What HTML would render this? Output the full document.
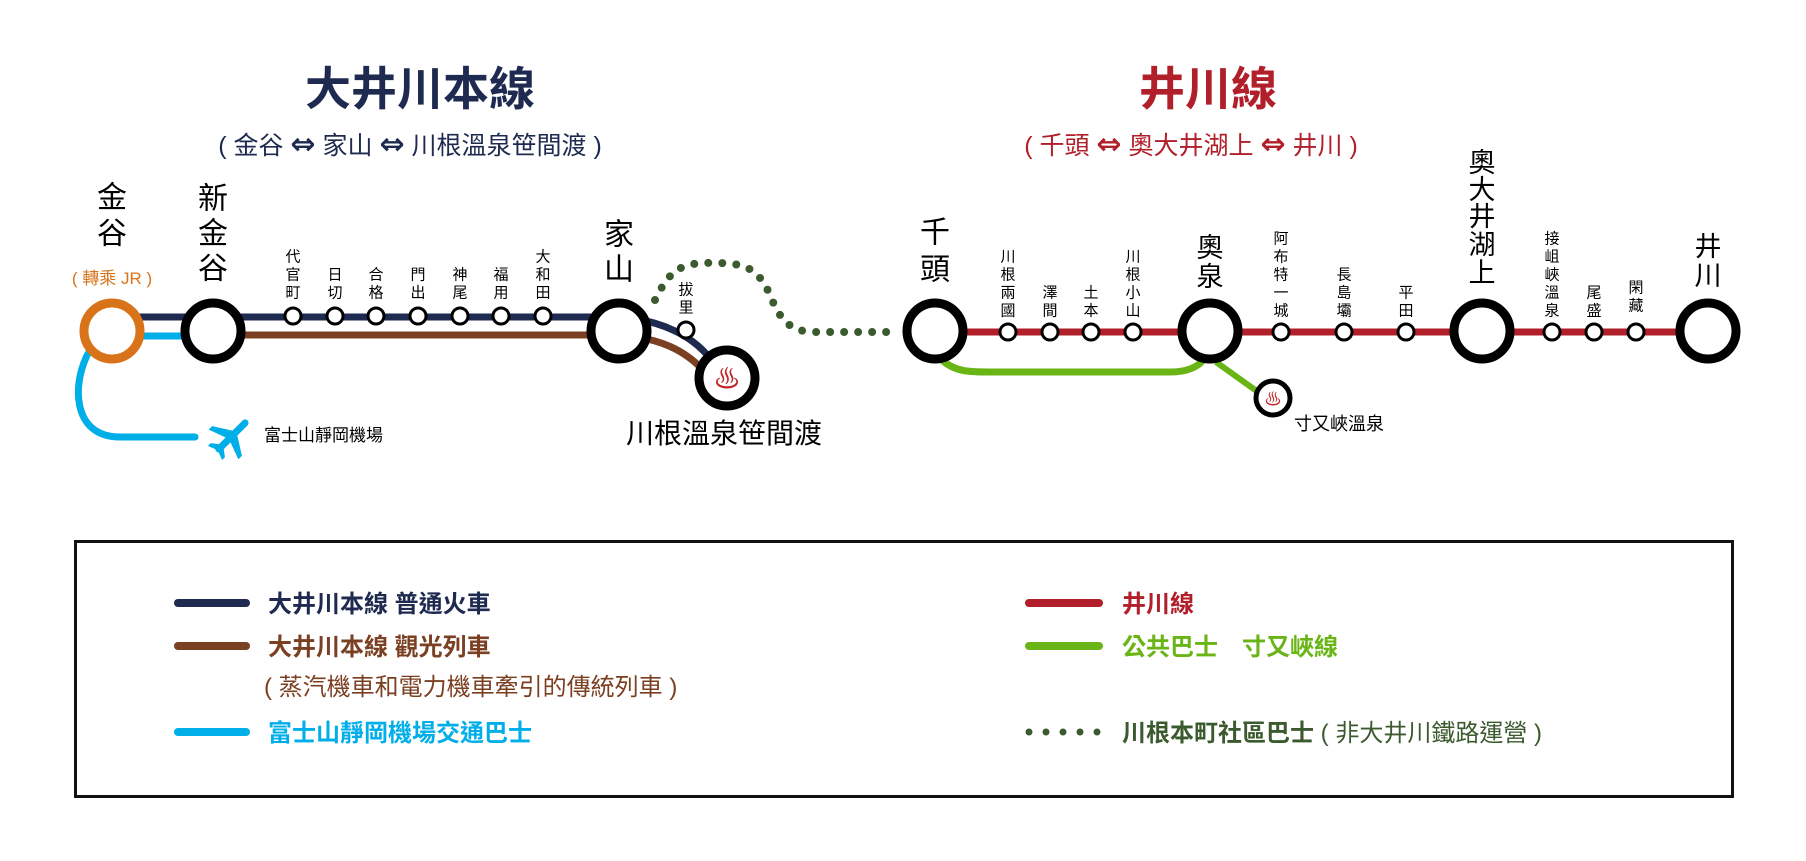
<!DOCTYPE html>
<html><head><meta charset="utf-8"><style>
html,body{margin:0;padding:0;background:#fff;}
svg{display:block;}
text{font-family:"Liberation Sans","Noto Sans CJK TC",sans-serif;}
.ar{font-family:"DejaVu Sans",sans-serif;font-weight:bold;font-size:30px;}
</style></head><body>
<svg width="1806" height="861" viewBox="0 0 1806 861" xmlns="http://www.w3.org/2000/svg">
<!-- Titles -->
<text x="420" y="105" font-size="46" font-weight="bold" fill="#1e2a4f" text-anchor="middle">大井川本線</text>
<text x="410" y="154" font-size="25" fill="#1e2a4f" text-anchor="middle">( 金谷 <tspan class="ar">⇔</tspan> 家山 <tspan class="ar">⇔</tspan> 川根溫泉笹間渡 )</text>
<text x="1208" y="105" font-size="46" font-weight="bold" fill="#b01f2a" text-anchor="middle">井川線</text>
<text x="1191" y="154" font-size="25" fill="#b01f2a" text-anchor="middle">( 千頭 <tspan class="ar">⇔</tspan> 奧大井湖上 <tspan class="ar">⇔</tspan> 井川 )</text>

<!-- Blue airport line -->
<path d="M136,336 L213,336" stroke="#00aee8" stroke-width="7" fill="none"/>
<path d="M90,350 C72,380 70,437 120,437 L195,437" stroke="#00aee8" stroke-width="7" fill="none" stroke-linecap="round"/>
<!-- navy -->
<path d="M112,317 L619,317" stroke="#1e2a4f" stroke-width="7" fill="none"/>
<path d="M619,317 C660,320 695,335 715,365" stroke="#1e2a4f" stroke-width="7" fill="none"/>
<!-- brown -->
<path d="M213,335 L619,335" stroke="#7b3f22" stroke-width="7" fill="none"/>
<path d="M619,335 C660,338 685,350 705,372" stroke="#7b3f22" stroke-width="7" fill="none"/>
<!-- dotted community bus -->
<path d="M655,300 C670,270 680,262 715,263 C745,263 758,268 770,295 C780,320 790,332 815,332 L900,332" stroke="#3b5a2e" stroke-width="8" fill="none" stroke-linecap="round" stroke-dasharray="0 14"/>
<!-- red Ikawa line -->
<path d="M935,332 L1708,332" stroke="#b01f2a" stroke-width="7" fill="none"/>
<!-- green -->
<path d="M942,360 C955,372 970,372 990,372 L1170,372 C1190,372 1200,365 1205,358" stroke="#6ab516" stroke-width="7" fill="none" stroke-linecap="round"/>
<path d="M1216,362 L1258,392" stroke="#6ab516" stroke-width="6" fill="none"/>

<!-- big stations -->
<circle cx="112" cy="331" r="28" fill="#fff" stroke="#d9731a" stroke-width="9"/>
<g fill="#fff" stroke="#000" stroke-width="9">
<circle cx="213" cy="331" r="28"/>
<circle cx="619" cy="331" r="28"/>
<circle cx="727" cy="378" r="28"/>
<circle cx="935" cy="331" r="28"/>
<circle cx="1210" cy="331" r="28"/>
<circle cx="1482" cy="331" r="28"/>
<circle cx="1708" cy="331" r="28"/>
</g>
<circle cx="1273" cy="398" r="17" fill="#fff" stroke="#000" stroke-width="5"/>
<text x="727" y="388" font-size="26" fill="#c0282d" text-anchor="middle">♨</text>
<text x="1273" y="405" font-size="17" fill="#c0282d" text-anchor="middle">♨</text>
<!-- small stations -->
<g fill="#fff" stroke="#000" stroke-width="3">
<circle cx="293" cy="316" r="8"/><circle cx="335" cy="316" r="8"/><circle cx="376" cy="316" r="8"/><circle cx="418" cy="316" r="8"/><circle cx="460" cy="316" r="8"/><circle cx="501" cy="316" r="8"/><circle cx="543" cy="316" r="8"/>
<circle cx="686" cy="330" r="8"/>
<circle cx="1008" cy="332" r="8"/><circle cx="1050" cy="332" r="8"/><circle cx="1091" cy="332" r="8"/><circle cx="1133" cy="332" r="8"/>
<circle cx="1281" cy="332" r="8"/><circle cx="1344" cy="332" r="8"/><circle cx="1406" cy="332" r="8"/>
<circle cx="1552" cy="332" r="8"/><circle cx="1594" cy="332" r="8"/><circle cx="1636" cy="332" r="8"/>
</g>

<!-- big labels -->
<g font-size="30" fill="#000" text-anchor="middle" dominant-baseline="central">
<text x="112" y="198">金</text><text x="112" y="234">谷</text>
<text x="213" y="199">新</text><text x="213" y="234">金</text><text x="213" y="269">谷</text>
<text x="619" y="235">家</text><text x="619" y="270">山</text>
<text x="935" y="233">千</text><text x="935" y="270">頭</text>
</g>
<g font-size="27" fill="#000" text-anchor="middle" dominant-baseline="central">
<text x="1210" y="248">奧</text><text x="1210" y="277">泉</text>
<text x="1482" y="163">奧</text><text x="1482" y="190">大</text><text x="1482" y="217">井</text><text x="1482" y="245">湖</text><text x="1482" y="273">上</text>
<text x="1708" y="247">井</text><text x="1708" y="276">川</text>
</g>
<text x="112" y="284" font-size="17" fill="#d9731a" text-anchor="middle">( 轉乘 JR )</text>

<!-- small labels -->
<g font-size="15" fill="#000" text-anchor="middle" dominant-baseline="central">
<text x="293" y="257">代</text><text x="293" y="275">官</text><text x="293" y="293">町</text>
<text x="335" y="275">日</text><text x="335" y="293">切</text>
<text x="376" y="275">合</text><text x="376" y="293">格</text>
<text x="418" y="275">門</text><text x="418" y="293">出</text>
<text x="460" y="275">神</text><text x="460" y="293">尾</text>
<text x="501" y="275">福</text><text x="501" y="293">用</text>
<text x="543" y="257">大</text><text x="543" y="275">和</text><text x="543" y="293">田</text>
<text x="686" y="290">拔</text><text x="686" y="308">里</text>
<text x="1008" y="257">川</text><text x="1008" y="275">根</text><text x="1008" y="293">兩</text><text x="1008" y="311">國</text>
<text x="1050" y="293">澤</text><text x="1050" y="311">間</text>
<text x="1091" y="293">土</text><text x="1091" y="311">本</text>
<text x="1133" y="257">川</text><text x="1133" y="275">根</text><text x="1133" y="293">小</text><text x="1133" y="311">山</text>
<text x="1281" y="239">阿</text><text x="1281" y="257">布</text><text x="1281" y="275">特</text><text x="1281" y="293">一</text><text x="1281" y="311">城</text>
<text x="1344" y="275">長</text><text x="1344" y="293">島</text><text x="1344" y="311">壩</text>
<text x="1406" y="293">平</text><text x="1406" y="311">田</text>
<text x="1552" y="239">接</text><text x="1552" y="257">岨</text><text x="1552" y="275">峽</text><text x="1552" y="293">溫</text><text x="1552" y="311">泉</text>
<text x="1594" y="293">尾</text><text x="1594" y="311">盛</text>
<text x="1636" y="288">閑</text><text x="1636" y="306">藏</text>
</g>

<text x="724" y="443" font-size="28" fill="#000" text-anchor="middle">川根溫泉笹間渡</text>
<text x="1339" y="430" font-size="18" fill="#000" text-anchor="middle">寸又峽溫泉</text>
<text x="264" y="441" font-size="17" fill="#000">富士山靜岡機場</text>
<!-- plane -->
<g transform="translate(232,436) rotate(45)" fill="#00aee8">
<rect x="-3.5" y="-22" width="7" height="44" rx="3.5"/>
<path d="M-2,-5 L-21,7 L-21,12 L-2,5 Z M2,-5 L21,7 L21,12 L2,5 Z"/>
<path d="M-2,14 L-10,20 L-10,24 L-2,21 Z M2,14 L10,20 L10,24 L2,21 Z"/>
</g>

<!-- legend -->
<rect x="75.5" y="541.5" width="1657" height="255" fill="none" stroke="#111" stroke-width="3"/>
<g stroke-width="8" stroke-linecap="round">
<line x1="178" y1="603" x2="246" y2="603" stroke="#1e2a4f"/>
<line x1="178" y1="646" x2="246" y2="646" stroke="#7b3f22"/>
<line x1="178" y1="732" x2="246" y2="732" stroke="#00aee8"/>
<line x1="1029" y1="603" x2="1099" y2="603" stroke="#b01f2a"/>
<line x1="1029" y1="646" x2="1099" y2="646" stroke="#6ab516"/>
</g>
<g fill="#3b5a2e"><circle cx="1029" cy="732" r="3.5"/><circle cx="1046" cy="732" r="3.5"/><circle cx="1063" cy="732" r="3.5"/><circle cx="1080" cy="732" r="3.5"/><circle cx="1097" cy="732" r="3.5"/></g>
<g font-size="24" font-weight="bold">
<text x="268" y="612" fill="#1e2a4f">大井川本線 普通火車</text>
<text x="268" y="655" fill="#7b3f22">大井川本線 觀光列車</text>
<text x="268" y="741" fill="#00aee8">富士山靜岡機場交通巴士</text>
<text x="1122" y="612" fill="#b01f2a">井川線</text>
<text x="1122" y="655" fill="#6ab516">公共巴士　寸又峽線</text>
<text x="1122" y="741" fill="#3b5a2e">川根本町社區巴士<tspan font-weight="normal"> ( 非大井川鐵路運營 )</tspan></text>
</g>
<text x="264" y="695" font-size="24" fill="#7b3f22">( 蒸汽機車和電力機車牽引的傳統列車 )</text>
</svg>
</body></html>
